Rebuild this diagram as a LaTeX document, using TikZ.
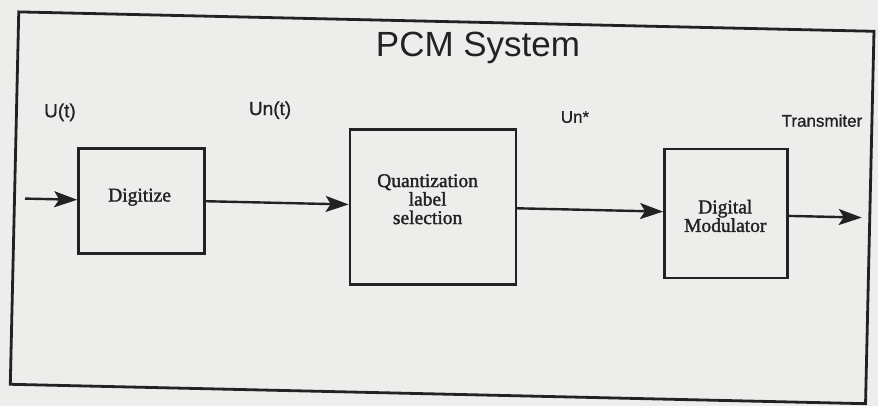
\documentclass[tikz,border=0pt]{standalone}
\usepackage{fontspec}
\setmainfont{Liberation Serif}
\newfontfamily\lsans{Liberation Sans}
\newfontfamily\lsansb[FakeBold=0.8]{Liberation Sans}
\newfontfamily\bxfont[FakeBold=1.6]{Liberation Serif}
\usetikzlibrary{arrows.meta}
\definecolor{paper}{RGB}{237,237,235}
\definecolor{ink}{RGB}{34,34,34}
\begin{document}
\begin{tikzpicture}[x=1pt,y=1pt,
  blk/.style={draw=ink, line width=2.6pt, rectangle, inner sep=0pt},
  sig/.style={font=\lsansb\fontsize{17}{17}\selectfont, text=ink},
  bigsig/.style={font=\lsansb\fontsize{19}{19}\selectfont, text=ink},
  boxtxt/.style={font=\bxfont\fontsize{19.5}{18.5}\selectfont, text=ink, align=center},
  flow/.style={draw=ink, line width=2.4pt, -{Stealth[length=23pt,width=16pt,inset=5pt]}}]
\fill[paper] (0,0) rectangle (878,406);
\useasboundingbox (0,0) rectangle (878,406);
\begin{scope}[rotate around={-1.3:(440,203)}]
  \draw[ink, line width=2.8pt] (14.5,384.5) rectangle (870,12);
  \node[font=\lsans\fontsize{35}{35}\selectfont, text=ink] (title) at (474.5,359) {PCM System};
  \node[blk, minimum width=126pt, minimum height=105pt] (dig) at (141.5,198) {};
  \node[boxtxt] (digt) at (139.5,202) {Digitize};
  \node[blk, minimum width=166pt, minimum height=155pt] (quant) at (433,199) {};
  \node[boxtxt] (quantt) at (427.5,206.5) {Quantization\\label\\selection};
  \node[blk, minimum width=123pt, minimum height=129pt] (mod) at (726,199) {};
  \node[boxtxt] (modt) at (725.5,196.5) {Digital\\Modulator};
  \coordinate (in) at (25,198);
  \coordinate (out) at (862,198);
  \draw[flow] (in) -- (in -| dig.west);
  \draw[flow] (dig.east) -- (dig.east -| quant.west);
  \draw[flow] (quant.east |- dig.east) -- (dig.east -| mod.west);
  \draw[flow] (mod.east |- out) -- (out);
  \node[bigsig] (ut) at (58,285) {U(t)};
  \node[bigsig] (unt) at (268,292) {Un(t)};
  \node[sig] (uns) at (573,292) {Un*};
  \node[sig] (tx) at (820,294) {Transmiter};
\end{scope}
\end{tikzpicture}
\end{document}
